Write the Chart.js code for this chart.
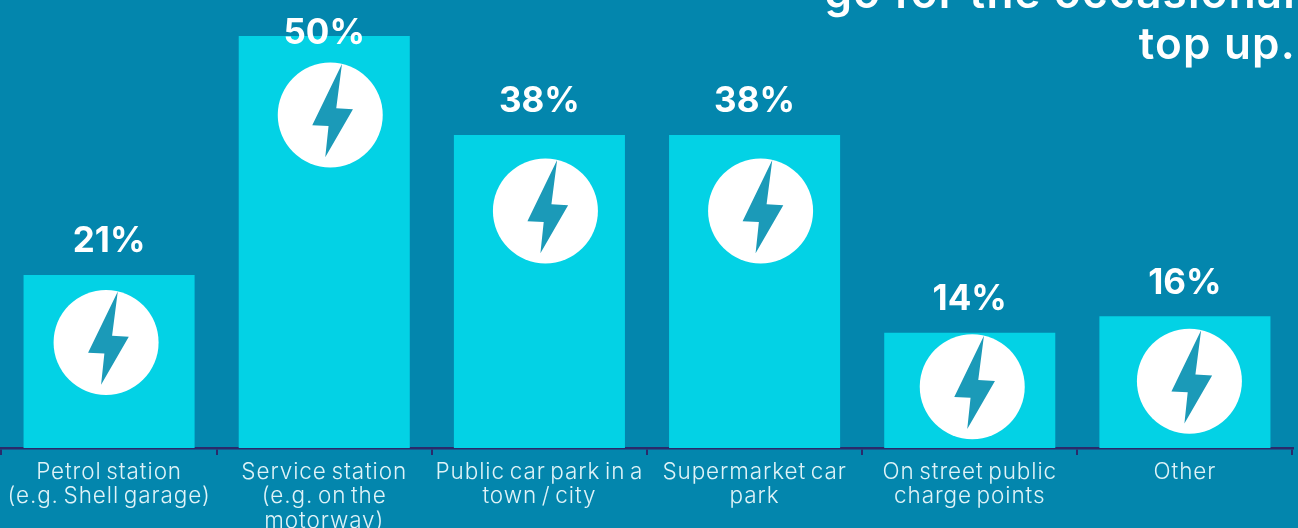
<!DOCTYPE html>
<html><head><meta charset="utf-8">
<script src="https://cdn.jsdelivr.net/npm/chart.js@4/dist/chart.umd.min.js"></script>
<style>html,body{margin:0;padding:0;background:#0386ad;overflow:hidden}canvas{display:block}</style>
</head><body><canvas id="c" width="1298" height="528"></canvas>
<script>
const categories = [
  ["Petrol station","(e.g. Shell garage)"],
  ["Service station","(e.g. on the","motorway)"],
  ["Public car park in a","town / city"],
  ["Supermarket car","park"],
  ["On street public","charge points"],
  ["Other"]
];
const values = [21,50,38,38,14,16];
const titleLines = ["go for the occasional","top up."];
const iconShiftX = [-3,6,6,6,2.5,4.5];
const iconDrop = [67.5,79,76,76,54,65];
const boltShape = [[11.7,-51],[6,-6.7],[22.7,-5.7],[-5,42.3],[-1.7,11],[-18,10.3]];

const decor = {
  id:'decor',
  beforeDraw(chart){
    const c = chart.ctx;
    c.fillStyle='#0386ad';
    c.fillRect(0,0,chart.width,chart.height);
    c.letterSpacing='0.9px';
    c.wordSpacing='-2.5px';
  },
  afterDraw(chart){
    const c = chart.ctx;
    c.save();
    c.wordSpacing='0px';
    const bars = chart.getDatasetMeta(0).data;
    bars.forEach((b,i)=>{
      const cx=b.x+iconShiftX[i], cy=b.y+iconDrop[i];
      c.fillStyle='#ffffff';
      c.beginPath();c.arc(cx,cy,52.5,0,Math.PI*2);c.fill();
      c.fillStyle='#1b9ab8';
      c.beginPath();
      boltShape.forEach((p,k)=>{k?c.lineTo(cx+p[0],cy+p[1]):c.moveTo(cx+p[0],cy+p[1]);});
      c.closePath();c.fill();
      c.fillStyle='#ffffff';
      c.letterSpacing='0px';
      c.font='700 35px Inter';
      c.textAlign='center';c.textBaseline='alphabetic';
      c.fillText(values[i]+'%',b.x,Math.max(b.y-22.5,44));
    });
    c.font='600 44px Inter';
    c.letterSpacing='1.2px';
    c.textAlign='right';
    c.fillText(titleLines[0],1296,8);
    c.fillText(titleLines[1],1296,59);
    c.restore();
  }
};

new Chart(document.getElementById('c'),{
  type:'bar',
  data:{labels:categories,datasets:[{data:values,backgroundColor:'#03d2e5',borderWidth:0,barPercentage:0.795,categoryPercentage:1}]},
  plugins:[decor],
  options:{
    responsive:false,animation:false,
    layout:{padding:{left:1.5,right:5.5,top:36,bottom:0}},
    plugins:{legend:{display:false},tooltip:{enabled:false},title:{display:false}},
    scales:{
      y:{display:false,min:0,max:50},
      x:{
        afterFit(s){s.height=80;},
        border:{color:'#2b2a6b',width:2.5},
        grid:{display:true,drawOnChartArea:false,drawTicks:true,tickLength:7,color:'#2b2a6b',lineWidth:2},
        ticks:{color:'#dff3f8',maxRotation:0,minRotation:0,autoSkip:false,padding:5,font:{family:'Inter',size:22.5,weight:'300',lineHeight:1.08}}
      }
    }
  }
});
</script></body></html>
